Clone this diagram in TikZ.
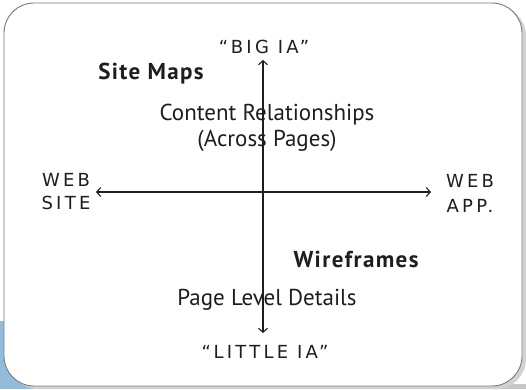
\documentclass[tikz,border=0pt]{standalone}
\usepackage{fontspec}
\setmainfont{PT Sans}
\newfontfamily\handfont[LetterSpace=18]{DejaVu Sans}
\newfontfamily\wideboldfont[LetterSpace=6]{PT Sans Bold}
\usetikzlibrary{arrows.meta}
\definecolor{ink}{HTML}{1E1E1E}
\definecolor{framegray}{HTML}{7A7A7A}
\definecolor{bgblue}{HTML}{93BCDA}
\tikzset{
  axis/.style={draw=ink, line width=1.1pt, {Straight Barb[length=4pt,width=9pt]}-{Straight Barb[length=4pt,width=9pt]}},
  hand/.style={font=\handfont\fontsize{18}{20}\selectfont, text=ink, anchor=base, inner sep=0pt},
  plain/.style={font=\fontsize{23}{26}\selectfont, text=ink, anchor=base, inner sep=0pt},
  heading/.style={font=\wideboldfont\fontsize{23}{26}\selectfont, text=ink, anchor=base, inner sep=0pt},
}
\begin{document}
\begin{tikzpicture}[x=1pt,y=-1pt]
\useasboundingbox (0,0) rectangle (526,389);
\fill[white] (0,0) rectangle (526,389);
% background blue band and shadow
\fill[bgblue] (0,321) rectangle (360,389);
\fill[gray!45] (360,384) rectangle (526,389);
\fill[gray!35, rounded corners=30pt] (8,6) rectangle (526,389);
% frame
\draw[framegray, line width=0.9pt, fill=white, rounded corners=30pt] (4,3) rectangle (522,386);
% axis end points
\coordinate (top) at (263,60);
\coordinate (bottom) at (263,333);
\coordinate (left) at (96,192);
\coordinate (right) at (431,192);
\draw[axis] (bottom) -- (top);
\draw[axis] (left) -- (right);
% labels
\node[hand] (big) at (264,53) {“BIG IA”};
\node[hand] (little) at (265,358) {“LITTLE IA”};
\node[hand] (web1) at (66,186) {WEB};
\node[hand] (site) at (66,209) {SITE};
\node[hand] (web2) at (470,187) {WEB};
\node[hand] (app) at (470,212) {APP.};
\node[heading] (sitemaps) at (151,79) {Site Maps};
\node[plain] (content) at (267,120) {Content Relationships};
\node[plain] (across) at (267,146) {(Across Pages)};
\node[heading] (wire) at (356,267) {Wireframes};
\node[plain] (page) at (267,305) {Page Level Details};
\end{tikzpicture}
\end{document}
